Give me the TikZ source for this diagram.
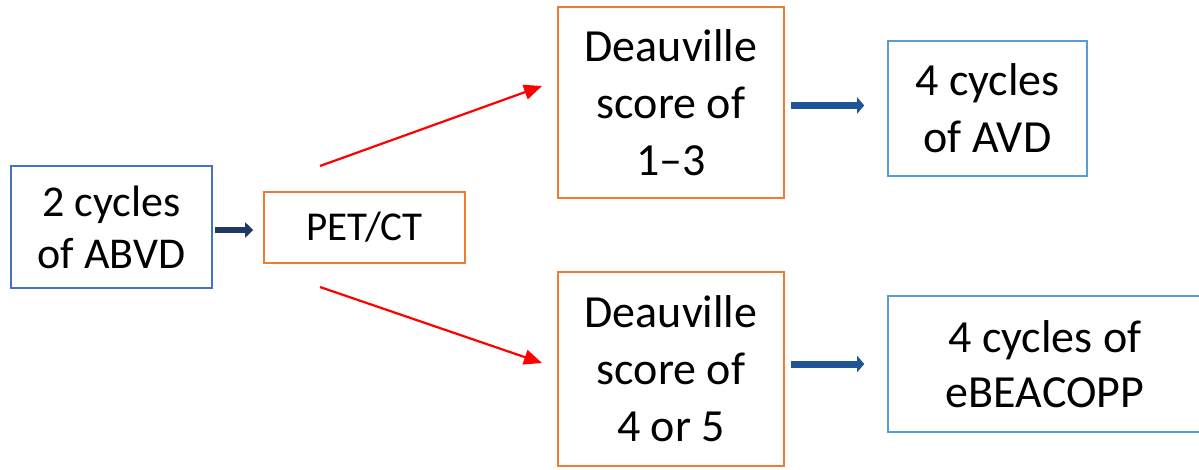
\documentclass[tikz,border=0pt]{standalone}
\usepackage{fontspec}
\setmainfont{Carlito}
\usetikzlibrary{arrows.meta}
\definecolor{boxblue}{HTML}{4472C4}
\definecolor{lightblue}{HTML}{5B9BD5}
\definecolor{boxorange}{HTML}{ED7D31}
\definecolor{navy}{HTML}{1F3864}
\definecolor{thickblue}{HTML}{1F5597}
\begin{document}
\begin{tikzpicture}[x=1pt,y=-1pt,
  box/.style={draw, line width=2.4pt, fill=white, align=center, inner sep=0pt,
    font=\fontsize{46}{57}\selectfont},
  redarrow/.style={red, line width=2.2pt, -{Triangle[length=18pt,width=15pt]}},
  bluearrow/.style={thickblue, line width=7pt, -{Triangle[length=7pt,width=16pt]}, shorten >=-1pt},
  navyarrow/.style={navy, line width=6pt, -{Triangle[length=8pt,width=15pt]}}
]
\useasboundingbox (0,0) rectangle (1199,469);
\node[box, draw=boxblue, minimum width=201pt, minimum height=122pt,
  font=\fontsize{44}{52}\selectfont] (abvd) at (111.5,227) {2 cycles\\of ABVD};
\node[box, draw=boxorange, minimum width=201pt, minimum height=71pt,
  font=\fontsize{41}{48}\selectfont] (pet) at (364.5,227.5) {PET/CT};
\node[box, draw=boxorange, minimum width=226pt, minimum height=191pt] (d13) at (671,102.5) {Deauville\\score of\\1--3};
\node[box, draw=boxorange, minimum width=226pt, minimum height=194pt] (d45) at (671,369) {Deauville\\score of\\4 or 5};
\node[box, draw=lightblue, minimum width=199pt, minimum height=135pt] (avd) at (987.5,108.5) {4 cycles\\of AVD};
\node[box, draw=lightblue, minimum width=314pt, minimum height=136pt,
  font=\fontsize{46}{55}\selectfont] (ebea) at (1045,364) {4 cycles of\\eBEACOPP};
\coordinate (r1s) at (320,166);
\coordinate (r1e) at (542,86);
\coordinate (r2s) at (320,287);
\coordinate (r2e) at (542,363);
\draw[navyarrow] (abvd.east |- 0,230) ++(2,0) -- ++(38,0);
\draw[redarrow] (r1s) -- (r1e);
\draw[redarrow] (r2s) -- (r2e);
\draw[bluearrow] (d13.east |- 0,105.5) ++(6,0) -- ++(72,0);
\draw[bluearrow] (d45.east |- 0,364) ++(6,0) -- ++(72,0);
\end{tikzpicture}
\end{document}
